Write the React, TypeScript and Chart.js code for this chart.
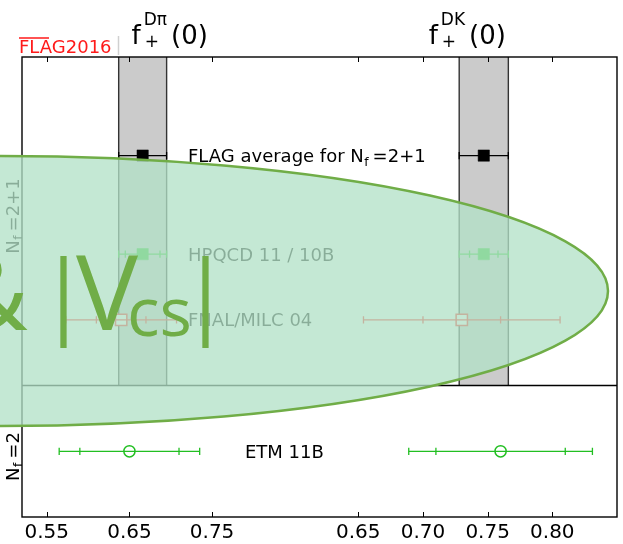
import React, { useEffect, useRef } from 'react';
import { Chart, registerables } from 'chart.js';

Chart.register(...registerables);

const FONT = "'DejaVu Sans', 'Liberation Sans', sans-serif";
const OVERLAY_FONT = "'Open Sans', 'Noto Sans', sans-serif";

// ---------------- data ----------------
const resultNames = ['FLAG average for N_f=2+1', 'HPQCD 11 / 10B', 'FNAL/MILC 04', 'ETM 11B'];
const resultRows = [1.5, 3, 4, 6];
const fDpiValues = [0.666, 0.666, 0.64, 0.65];
const fDpiStatErrors = [0.029, 0.021, 0.03, 0.06];
const fDpiTotalErrors = [0.029, 0.029, 0.067, 0.085];
const fDKValues = [0.747, 0.747, 0.73, 0.76];
const fDKStatErrors = [0.019, 0.011, 0.03, 0.05];
const fDKTotalErrors = [0.019, 0.019, 0.076, 0.071];
const fDpiTicks = [0.55, 0.65, 0.75];
const fDKTicks = [0.65, 0.7, 0.75, 0.8];
const fDpiRange = [0.52, 0.88];
const fDKRange = [0.62, 0.85];
const rowRange = [0, 7];
const sectionBoundary = 5;
const sectionLabels = ['N_f=2+1', 'N_f=2'];
const panelTitles = ['Dπ', 'DK'];

// ---------------- styles ----------------
const GREEN = '#22bf22';
const resultStyles = [
  { color: '#000000', shape: 'rect', filled: true, radius: 8 },
  { color: GREEN, shape: 'rect', filled: true, radius: 8 },
  { color: '#ff1a1a', shape: 'rect', filled: false, radius: 8 },
  { color: GREEN, shape: 'circle', filled: false, radius: 5.6 },
];
const labelOffsets = [166, 166, 166, 223];
const sectionCenters = [2.42, 6.08];

type Part = { text: string; size: number; dy?: number; dx?: number };

function richParts(text: string, size: number): Part[] {
  const i = text.indexOf('_f');
  if (i < 0) return [{ text, size }];
  return [
    { text: text.slice(0, i), size },
    { text: 'f', size: size * 0.68, dy: size * 0.2, dx: 0.5 },
    { text: text.slice(i + 2), size, dx: 4 },
  ];
}

function partsWidth(ctx: CanvasRenderingContext2D, parts: Part[]) {
  let w = 0;
  for (const p of parts) {
    ctx.font = `${p.size}px ${FONT}`;
    w += ctx.measureText(p.text).width + (p.dx || 0);
  }
  return w;
}

function drawParts(ctx: CanvasRenderingContext2D, parts: Part[], x: number, y: number) {
  let cx = x;
  for (const p of parts) {
    ctx.font = `${p.size}px ${FONT}`;
    cx += p.dx || 0;
    ctx.fillText(p.text, cx, y + (p.dy || 0));
    cx += ctx.measureText(p.text).width;
  }
}

const flagPlugin = {
  id: 'flagDecor',
  beforeDatasetsDraw(chart: any) {
    const ctx = chart.ctx as CanvasRenderingContext2D;
    const { top } = chart.chartArea;
    const divY = chart.scales.y.getPixelForValue(sectionBoundary);
    const bands: [string, number, number][] = [
      ['xL', fDpiValues[0], fDpiTotalErrors[0]],
      ['xR', fDKValues[0], fDKTotalErrors[0]],
    ];
    ctx.save();
    for (const [id, v, e] of bands) {
      const sc = chart.scales[id];
      const x1 = sc.getPixelForValue(v - e);
      const x2 = sc.getPixelForValue(v + e);
      ctx.fillStyle = '#cbcbcb';
      ctx.fillRect(x1, top, x2 - x1, divY - top);
      ctx.strokeStyle = '#333';
      ctx.lineWidth = 1.4;
      ctx.beginPath();
      ctx.moveTo(x1, top);
      ctx.lineTo(x1, divY);
      ctx.moveTo(x2, top);
      ctx.lineTo(x2, divY);
      ctx.stroke();
    }
    ctx.restore();
  },
  afterDatasetsDraw(chart: any) {
    const ctx = chart.ctx as CanvasRenderingContext2D;
    const { left, right, top, bottom } = chart.chartArea;
    const ys = chart.scales.y;
    ctx.save();
    // frame
    ctx.strokeStyle = '#000';
    ctx.lineWidth = 1.4;
    ctx.strokeRect(left, top, right - left, bottom - top);
    const divY = ys.getPixelForValue(sectionBoundary);
    ctx.beginPath();
    ctx.moveTo(left, divY);
    ctx.lineTo(right, divY);
    ctx.stroke();
    // inward ticks
    ctx.lineWidth = 1;
    for (const id of ['xL', 'xR']) {
      const sc = chart.scales[id];
      for (const t of sc.ticks) {
        const px = Math.round(sc.getPixelForValue(t.value)) + 0.5;
        ctx.beginPath();
        ctx.moveTo(px, bottom);
        ctx.lineTo(px, bottom - 5);
        ctx.moveTo(px, top);
        ctx.lineTo(px, top + 5);
        ctx.stroke();
      }
    }
    // result labels
    ctx.fillStyle = '#000';
    ctx.textBaseline = 'alphabetic';
    ctx.textAlign = 'left';
    resultNames.forEach((name, i) => {
      const y = ys.getPixelForValue(resultRows[i]) + 6.5;
      drawParts(ctx, richParts(name, 18), left + labelOffsets[i], y);
    });
    // section labels (rotated)
    sectionLabels.forEach((lab, i) => {
      const cy = ys.getPixelForValue(sectionCenters[i]);
      const parts = richParts(lab, 18);
      ctx.save();
      ctx.translate(18.5, cy);
      ctx.rotate(-Math.PI / 2);
      const w = partsWidth(ctx, parts);
      drawParts(ctx, parts, -w / 2, 0);
      ctx.restore();
    });
    ctx.restore();
  },
  afterDraw(chart: any) {
    const ctx = chart.ctx as CanvasRenderingContext2D;
    const { top } = chart.chartArea;
    ctx.save();
    // panel titles
    ctx.fillStyle = '#000';
    ctx.textBaseline = 'alphabetic';
    ctx.textAlign = 'left';
    ['xL', 'xR'].forEach((id, i) => {
      const sc = chart.scales[id];
      const center = (sc.left + sc.right) / 2 - 1;
      ctx.font = `26px ${FONT}`;
      const wf = ctx.measureText('f').width;
      const w0 = ctx.measureText('(0)').width;
      ctx.font = `17px ${FONT}`;
      const wsup = ctx.measureText(panelTitles[i]).width;
      const wsub = ctx.measureText('+').width;
      const ws = Math.max(wsup, wsub);
      const total = wf + 3 + ws + 4 + w0;
      let x = center - total / 2;
      ctx.font = `26px ${FONT}`;
      ctx.fillText('f', x, 44);
      x += wf + 3;
      ctx.font = `17px ${FONT}`;
      ctx.fillText(panelTitles[i], x, 25);
      ctx.fillText('+', x + 1, 47);
      x += ws + 4;
      ctx.font = `26px ${FONT}`;
      ctx.fillText('(0)', x, 44);
    });
    // FLAG2016 logo
    ctx.fillStyle = '#ff1a1a';
    ctx.strokeStyle = '#ff1a1a';
    ctx.font = `18px ${FONT}`;
    ctx.fillText('FLAG2016', 19, 53);
    ctx.lineWidth = 1.5;
    ctx.beginPath();
    ctx.moveTo(19, 38);
    ctx.lineTo(49, 38);
    ctx.stroke();
    ctx.strokeStyle = '#d0d0d0';
    ctx.lineWidth = 1.5;
    ctx.beginPath();
    ctx.moveTo(118.5, 36);
    ctx.lineTo(118.5, top - 2);
    ctx.stroke();

    // overlay ellipse
    ctx.beginPath();
    ctx.ellipse(0, 291, 608, 135, 0, 0, Math.PI * 2);
    ctx.fillStyle = 'rgba(178,225,199,0.77)';
    ctx.fill();
    ctx.strokeStyle = '#70AD47';
    ctx.lineWidth = 2.5;
    ctx.stroke();

    // overlay text
    ctx.fillStyle = '#70AD47';
    ctx.font = `104px ${OVERLAY_FONT}`;
    ctx.textAlign = 'right';
    ctx.fillText('&', 28, 330);
    ctx.textAlign = 'left';
    ctx.fillText('V', 76, 330);
    ctx.font = `92px ${OVERLAY_FONT}`;
    ctx.textAlign = 'center';
    ctx.fillText('|', 63.5, 326);
    ctx.fillText('|', 205.5, 326);
    ctx.textAlign = 'left';
    ctx.font = `68px ${OVERLAY_FONT}`;
    ctx.fillText('cs', 127, 336);
    ctx.restore();
  },
};

export default function App() {
  const ref = useRef<HTMLCanvasElement>(null);
  useEffect(() => {
    const canvas = ref.current;
    if (!canvas) return;
    const panels = [
      { axis: 'xL', values: fDpiValues, stat: fDpiStatErrors, total: fDpiTotalErrors },
      { axis: 'xR', values: fDKValues, stat: fDKStatErrors, total: fDKTotalErrors },
    ];
    const datasets: any[] = [];
    panels.forEach((p) => {
      resultNames.forEach((name, i) => {
        const st = resultStyles[i];
        const v = p.values[i];
        const s = p.stat[i];
        const t = p.total[i];
        const xs = s === t ? [v - t, v + t] : [v - t, v - s, v + s, v + t];
        datasets.push({
          label: name + ' error',
          xAxisID: p.axis,
          yAxisID: 'y',
          data: xs.map((x) => ({ x, y: resultRows[i] })),
          showLine: true,
          borderColor: st.color,
          borderWidth: 1.3,
          pointStyle: 'line',
          pointRotation: 90,
          rotation: 90,
          pointRadius: 3.6,
          pointBorderColor: st.color,
          pointBorderWidth: 1.3,
          pointBackgroundColor: st.color,
        });
        datasets.push({
          label: name,
          xAxisID: p.axis,
          yAxisID: 'y',
          data: [{ x: v, y: resultRows[i] }],
          showLine: false,
          pointStyle: st.shape,
          pointRadius: st.radius,
          pointBackgroundColor: st.filled ? st.color : '#ffffff',
          pointBorderColor: st.color,
          pointBorderWidth: st.filled ? 0.5 : 1.5,
        });
      });
    });

    const xScale = (range: number[], ticks: number[]) => ({
      type: 'linear',
      axis: 'x',
      position: 'bottom',
      stack: 'panels',
      stackWeight: 1,
      min: range[0],
      max: range[1],
      grid: { display: false, drawTicks: false },
      border: { display: false },
      ticks: {
        font: { family: FONT, size: 20 },
        color: '#000',
        padding: 4,
        maxRotation: 0,
        autoSkip: false,
        callback: (val: any) => Number(val).toFixed(2),
      },
      afterBuildTicks: (scale: any) => {
        scale.ticks = ticks.map((value) => ({ value }));
      },
      afterFit: (scale: any) => {
        scale.height = 27;
        scale.paddingLeft = 0;
        scale.paddingRight = 0;
      },
    });

    const chart = new Chart(canvas, {
      type: 'scatter',
      data: { datasets },
      options: {
        animation: false,
        responsive: false,
        devicePixelRatio: 1,
        layout: { autoPadding: false, padding: { top: 57, left: 22, right: 6, bottom: 0 } },
        plugins: { legend: { display: false }, tooltip: { enabled: false } },
        scales: {
          xL: xScale(fDpiRange, fDpiTicks),
          xR: xScale(fDKRange, fDKTicks),
          y: { type: 'linear', min: rowRange[0], max: rowRange[1], reverse: true, display: false },
        },
      } as any,
      plugins: [flagPlugin],
    });
    return () => chart.destroy();
  }, []);

  return (
    <div style={{ position: 'fixed', left: 0, top: 0, width: 623, height: 544, background: '#fff' }}>
      <canvas ref={ref} width={623} height={544} style={{ width: 623, height: 544, display: 'block' }} />
    </div>
  );
}
